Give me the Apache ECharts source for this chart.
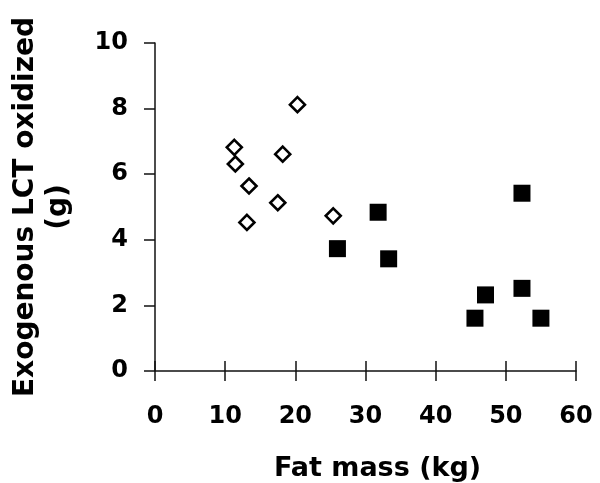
<!DOCTYPE html>
<html>
<head>
<meta charset="utf-8">
<script src="https://cdn.jsdelivr.net/npm/echarts@6/dist/echarts.min.js"></script>
<style>
  html, body { margin: 0; padding: 0; background: #fff; }
  #main { width: 600px; height: 483px; }
</style>
</head>
<body>
<div id="main"></div>
<script>
// open diamonds
var leanFat = [11.3, 11.45, 13.4, 13.1, 18.2, 17.5, 20.3, 25.4];
var leanLct = [6.82, 6.31, 5.64, 4.53, 6.61, 5.13, 8.12, 4.73];
// filled squares
var obeseFat = [26.0, 31.8, 33.3, 45.6, 47.1, 52.3, 52.3, 55.0];
var obeseLct = [3.73, 4.84, 3.42, 1.61, 2.32, 5.42, 2.52, 1.61];

var xTicks = [0, 10, 20, 30, 40, 50, 60];
var yTicks = [0, 2, 4, 6, 8, 10];

function pairs(xs, ys) {
    var out = [];
    for (var i = 0; i < xs.length; i++) {
        out.push([xs[i], ys[i]]);
    }
    return out;
}

var fontFam = 'DejaVu Sans';
var lineCol = '#111';

var myChart = echarts.init(document.getElementById('main'));

var option = {
    backgroundColor: '#fff',
    animation: false,
    grid: {
        left: 155,
        right: 24,
        top: 43,
        bottom: 112,
        containLabel: false,
        outerBoundsMode: 'none'
    },
    xAxis: [
        {
            type: 'value',
            min: xTicks[0],
            max: xTicks[xTicks.length - 1],
            interval: 10,
            splitLine: { show: false },
            axisLine: { onZero: false, lineStyle: { color: lineCol, width: 1.5 } },
            axisTick: { length: 10, lineStyle: { color: lineCol, width: 1.5 } },
            axisLabel: {
                margin: 34,
                color: '#000',
                fontFamily: fontFam,
                fontWeight: 'bold',
                fontSize: 24
            },
            name: 'Fat mass (kg)',
            nameLocation: 'middle',
            nameGap: 84,
            nameTextStyle: {
                color: '#000',
                fontFamily: fontFam,
                fontWeight: 'bold',
                fontSize: 27,
                padding: [0, 0, 0, 24]
            }
        },
        {
            // second copy only for the inner half of the crossing ticks
            type: 'value',
            position: 'bottom',
            min: xTicks[0],
            max: xTicks[xTicks.length - 1],
            interval: 10,
            splitLine: { show: false },
            axisLine: { show: false },
            axisTick: { inside: true, length: 10, lineStyle: { color: lineCol, width: 1.5 } },
            axisLabel: { show: false }
        }
    ],
    yAxis: {
        type: 'value',
        min: yTicks[0],
        max: yTicks[yTicks.length - 1],
        interval: 2,
        splitLine: { show: false },
        axisLine: { show: true, lineStyle: { color: lineCol, width: 1.5 } },
        axisTick: { show: true, length: 11, lineStyle: { color: lineCol, width: 1.5 } },
        axisLabel: {
            margin: 27,
            color: '#000',
            fontFamily: fontFam,
            fontWeight: 'bold',
            fontSize: 24
        },
        name: 'Exogenous LCT oxidized\n(g)',
        nameLocation: 'middle',
        nameGap: 80,
        nameRotate: 90,
        nameTextStyle: {
            color: '#000',
            fontFamily: fontFam,
            fontWeight: 'bold',
            fontSize: 28,
            lineHeight: 33,
            align: 'center'
        }
    },
    series: [
        {
            type: 'scatter',
            name: 'lean',
            xAxisIndex: 0,
            symbol: 'diamond',
            symbolSize: 15,
            itemStyle: {
                color: '#fff',
                borderColor: '#000',
                borderWidth: 2.6,
                opacity: 1
            },
            data: pairs(leanFat, leanLct)
        },
        {
            type: 'scatter',
            name: 'obese',
            xAxisIndex: 0,
            symbol: 'rect',
            symbolSize: 17,
            itemStyle: {
                color: '#000',
                opacity: 1
            },
            data: pairs(obeseFat, obeseLct)
        }
    ]
};

myChart.setOption(option);
</script>
</body>
</html>
